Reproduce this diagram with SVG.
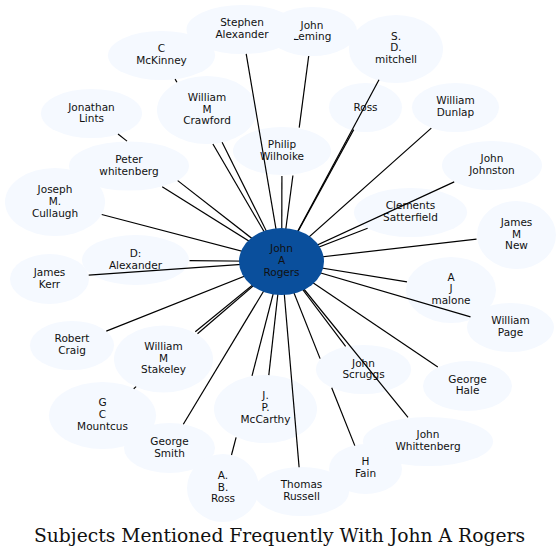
<svg xmlns="http://www.w3.org/2000/svg" width="560" height="557" viewBox="0 0 560 557">
<style>
.n ellipse{fill:#f5f9ff;stroke:none}
.n text{font-family:"DejaVu Sans","Liberation Sans",sans-serif;font-size:10.5px;fill:#111;text-anchor:middle}
#edges line{stroke:#000;stroke-width:1.2;stroke-linecap:butt}
.c ellipse{fill:#0a4f9c}
.title{font-family:"DejaVu Serif","Liberation Serif",serif;font-size:19px;fill:#111;text-anchor:middle}
</style>
<rect width="560" height="557" fill="#fff"/>
<g id="n-john-leming" class="n"><ellipse cx="312" cy="31.5" rx="45" ry="24.5"/><text x="312" y="28.5">John</text><text x="312" y="40.2">Leming</text></g>
<g id="n-stephen-alexander" class="n"><ellipse cx="242.5" cy="29.5" rx="56" ry="24.5"/><text x="242" y="26.3">Stephen</text><text x="242" y="38">Alexander</text></g>
<g id="n-c-mckinney" class="n"><ellipse cx="161.5" cy="55.5" rx="53.5" ry="24.5"/><text x="161.5" y="52.4">C</text><text x="161.5" y="64.2">McKinney</text></g>
<g id="n-sd-mitchell" class="n"><ellipse cx="396" cy="49" rx="47" ry="34"/><text x="396" y="39.6">S.</text><text x="396" y="51.4">D.</text><text x="396" y="63.2">mitchell</text></g>
<g id="n-william-m-crawford" class="n"><ellipse cx="207" cy="110" rx="50" ry="34"/><text x="207" y="101">William</text><text x="207" y="112.6">M</text><text x="207" y="124.3">Crawford</text></g>
<g id="n-ross" class="n"><ellipse cx="365.5" cy="107.5" rx="36.5" ry="24.5"/><text x="365.5" y="111">Ross</text></g>
<g id="n-william-dunlap" class="n"><ellipse cx="455.5" cy="107.5" rx="43.5" ry="24.5"/><text x="455.5" y="104.3">William</text><text x="455.5" y="116">Dunlap</text></g>
<g id="n-jonathan-lints" class="n"><ellipse cx="91.5" cy="113.5" rx="50.5" ry="24.5"/><text x="91.5" y="110.6">Jonathan</text><text x="91.5" y="122.3">Lints</text></g>
<g id="n-philip-wilhoike" class="n"><ellipse cx="282" cy="151" rx="49" ry="24"/><text x="282" y="147.8">Philip</text><text x="282" y="159.5">Wilhoike</text></g>
<g id="n-peter-whitenberg" class="n"><ellipse cx="129" cy="166" rx="60" ry="24.5"/><text x="129" y="162.9">Peter</text><text x="129" y="174.7">whitenberg</text></g>
<g id="n-john-johnston" class="n"><ellipse cx="492" cy="165.5" rx="50" ry="24.5"/><text x="492" y="162.4">John</text><text x="492" y="174.1">Johnston</text></g>
<g id="n-joseph-m-cullaugh" class="n"><ellipse cx="55" cy="202" rx="50" ry="34"/><text x="55" y="193">Joseph</text><text x="55" y="204.7">M.</text><text x="55" y="216.5">Cullaugh</text></g>
<g id="n-clements-satterfield" class="n"><ellipse cx="410.5" cy="212.5" rx="56.5" ry="24.5"/><text x="410.5" y="209.2">Clements</text><text x="410.5" y="220.9">Satterfield</text></g>
<g id="n-james-m-new" class="n"><ellipse cx="516.5" cy="235" rx="39.5" ry="34"/><text x="516.5" y="226">James</text><text x="516.5" y="237.7">M</text><text x="516.5" y="249.3">New</text></g>
<g id="n-d-alexander" class="n"><ellipse cx="135.5" cy="260" rx="53.5" ry="25"/><text x="135.5" y="256.8">D:</text><text x="135.5" y="268.5">Alexander</text></g>
<g id="n-james-kerr" class="n"><ellipse cx="49.5" cy="279" rx="39.5" ry="25"/><text x="49.5" y="275.8">James</text><text x="49.5" y="287.5">Kerr</text></g>
<g id="n-a-j-malone" class="n"><ellipse cx="451" cy="290" rx="45" ry="33"/><text x="451" y="280.7">A</text><text x="451" y="292.4">J</text><text x="451" y="304.2">malone</text></g>
<g id="n-william-page" class="n"><ellipse cx="510.5" cy="327.5" rx="43.5" ry="24.5"/><text x="510.5" y="324.3">William</text><text x="510.5" y="336">Page</text></g>
<g id="n-robert-craig" class="n"><ellipse cx="72" cy="345.5" rx="42" ry="24.5"/><text x="72" y="342">Robert</text><text x="72" y="353.9">Craig</text></g>
<g id="n-william-m-stakeley" class="n"><ellipse cx="163.5" cy="359" rx="49.5" ry="33.5"/><text x="163.5" y="350">William</text><text x="163.5" y="361.7">M</text><text x="163.5" y="373.4">Stakeley</text></g>
<g id="n-john-scruggs" class="n"><ellipse cx="363.5" cy="369.5" rx="47.5" ry="24.5"/><text x="363.5" y="366.5">John</text><text x="363.5" y="378.2">Scruggs</text></g>
<g id="n-george-hale" class="n"><ellipse cx="467.5" cy="386" rx="44.5" ry="25"/><text x="467.5" y="382.8">George</text><text x="467.5" y="394.4">Hale</text></g>
<g id="n-g-c-mountcus" class="n"><ellipse cx="102.5" cy="415.5" rx="53.5" ry="33.5"/><text x="102.5" y="406.2">G</text><text x="102.5" y="417.9">C</text><text x="102.5" y="429.8">Mountcus</text></g>
<g id="n-jp-mccarthy" class="n"><ellipse cx="265.5" cy="409" rx="51.5" ry="34"/><text x="265.5" y="399.4">J.</text><text x="265.5" y="411.2">P.</text><text x="265.5" y="422.9">McCarthy</text></g>
<g id="n-john-whittenberg" class="n"><ellipse cx="428" cy="441.5" rx="65" ry="24.5"/><text x="428" y="438">John</text><text x="428" y="450">Whittenberg</text></g>
<g id="n-george-smith" class="n"><ellipse cx="169.5" cy="448" rx="45.5" ry="25"/><text x="169.5" y="445">George</text><text x="169.5" y="456.7">Smith</text></g>
<g id="n-h-fain" class="n"><ellipse cx="365.5" cy="469" rx="36.5" ry="25"/><text x="365.5" y="465.4">H</text><text x="365.5" y="477">Fain</text></g>
<g id="n-ab-ross" class="n"><ellipse cx="223" cy="488" rx="36" ry="34"/><text x="223" y="479">A.</text><text x="223" y="490.7">B.</text><text x="223" y="502.4">Ross</text></g>
<g id="n-thomas-russell" class="n"><ellipse cx="301.5" cy="491.5" rx="47.5" ry="24.5"/><text x="301.5" y="488.4">Thomas</text><text x="301.5" y="500.1">Russell</text></g>
<g id="edges">
<line x1="281.5" y1="261.5" x2="246.2" y2="53.9"/>
<line x1="308.7" y1="56" x2="299.2" y2="127.6"/>
<line x1="292.9" y1="175.5" x2="281.5" y2="261.5"/>
<line x1="175.1" y1="79.1" x2="176.9" y2="82.3"/>
<line x1="212.9" y1="144" x2="281.5" y2="261.5"/>
<line x1="222.1" y1="142.2" x2="281.5" y2="261.5"/>
<line x1="379" y1="79.7" x2="281.5" y2="261.5"/>
<line x1="353.7" y1="129.6" x2="281.5" y2="261.5"/>
<line x1="431.3" y1="128.1" x2="281.5" y2="261.5"/>
<line x1="454.2" y1="181.9" x2="281.5" y2="261.5"/>
<line x1="367.6" y1="228.3" x2="281.5" y2="261.5"/>
<line x1="476.5" y1="239.2" x2="281.5" y2="261.5"/>
<line x1="407" y1="281.9" x2="281.5" y2="261.5"/>
<line x1="470.5" y1="316.8" x2="281.5" y2="261.5"/>
<line x1="437.8" y1="367" x2="281.5" y2="261.5"/>
<line x1="345.6" y1="346.3" x2="281.5" y2="261.5"/>
<line x1="408" y1="417.3" x2="281.5" y2="261.5"/>
<line x1="281.5" y1="261.5" x2="320.1" y2="358.6"/>
<line x1="331.7" y1="387.7" x2="354.8" y2="445.6"/>
<line x1="281.5" y1="261.5" x2="299.1" y2="467.2"/>
<line x1="281.5" y1="261.5" x2="268.8" y2="375.1"/>
<line x1="281.5" y1="261.5" x2="252" y2="375.9"/>
<line x1="236.1" y1="437.3" x2="231.5" y2="455"/>
<line x1="281.5" y1="261.5" x2="183.3" y2="424.3"/>
<line x1="281.5" y1="261.5" x2="195.3" y2="331.8"/>
<line x1="281.5" y1="261.5" x2="197.5" y2="333.8"/>
<line x1="136.1" y1="386.6" x2="133.7" y2="388.7"/>
<line x1="281.5" y1="261.5" x2="106.3" y2="331.1"/>
<line x1="281.5" y1="261.5" x2="88.7" y2="275.2"/>
<line x1="281.5" y1="261.5" x2="189.5" y2="260.6"/>
<line x1="281.5" y1="261.5" x2="101.7" y2="214.5"/>
<line x1="281.5" y1="261.5" x2="162.2" y2="186.8"/>
<line x1="118" y1="134" x2="127" y2="141.1"/>
<line x1="177.7" y1="180.6" x2="281.5" y2="261.5"/>
<line x1="281.9" y1="176" x2="281.7" y2="261.5"/>
</g>
<g id="n-john-a-rogers" class="n c"><ellipse cx="281.5" cy="261.5" rx="42.5" ry="33.5"/><text x="281.5" y="252.4">John</text><text x="281.5" y="264.1">A</text><text x="281.5" y="275.8">Rogers</text></g>
<text class="title" x="279.5" y="541.5" textLength="491" lengthAdjust="spacingAndGlyphs">Subjects Mentioned Frequently With John A Rogers</text>
</svg>
